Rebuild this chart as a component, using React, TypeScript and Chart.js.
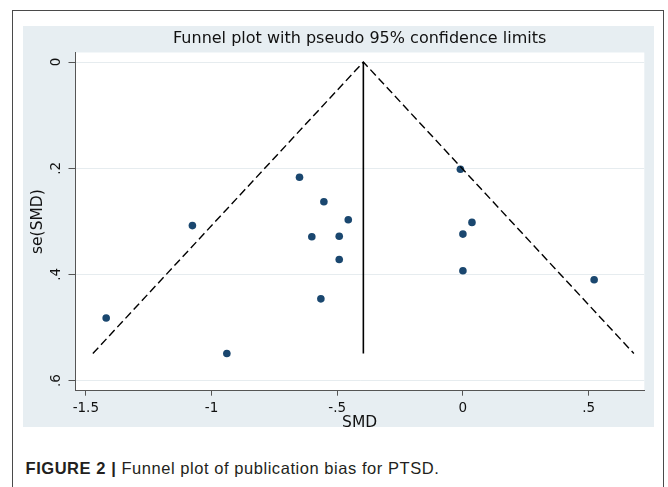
import React, { useEffect, useRef } from "react";
import { Chart, registerables } from "chart.js";

Chart.register(...registerables);

// ---- data ----
const studySMD = [-1.419, -1.076, -0.939, -0.65, -0.553, -0.601, -0.492, -0.456, -0.492, -0.565, -0.01, 0.036, 0.0, 0.0, 0.522];
const studySE = [0.482, 0.308, 0.549, 0.217, 0.263, 0.329, 0.328, 0.297, 0.372, 0.446, 0.202, 0.302, 0.324, 0.393, 0.41];
const funnelX = [-1.472, -0.396, 0.68];
const funnelY = [0.549, 0, 0.549];
const pooledX = [-0.396, -0.396];
const pooledY = [0, 0.549];
const xTickValues = [-1.5, -1, -0.5, 0, 0.5];
const yTickValues = [0, 0.2, 0.4, 0.6];

const titleText = "Funnel plot with pseudo 95% confidence limits";
const xTitle = "SMD";
const yTitle = "se(SMD)";

const fmt = (v: number) => {
  if (Math.abs(v) < 1e-9) return "0";
  let s = String(Math.round(v * 100) / 100);
  s = s.replace(/^0\./, ".").replace(/^-0\./, "-.");
  return s;
};

const FONT = "'DejaVu Sans', sans-serif";

const plotBg = {
  id: "plotBg",
  beforeDraw(chart: any) {
    const { ctx, chartArea } = chart;
    ctx.save();
    ctx.fillStyle = "#ffffff";
    ctx.fillRect(chartArea.left, chartArea.top, chartArea.right - chartArea.left, chartArea.bottom - chartArea.top);
    ctx.restore();
  },
};

export default function App() {
  const ref = useRef<HTMLCanvasElement | null>(null);

  useEffect(() => {
    if (!ref.current) return;
    const chart = new Chart(ref.current, {
      type: "scatter",
      data: {
        datasets: [
          {
            type: "line",
            data: funnelX.map((x, i) => ({ x, y: funnelY[i] })),
            borderColor: "#000000",
            borderWidth: 1.4,
            borderDash: [8, 4],
            pointRadius: 0,
            fill: false,
            tension: 0,
          } as any,
          {
            type: "line",
            data: pooledX.map((x, i) => ({ x, y: pooledY[i] })),
            borderColor: "#000000",
            borderWidth: 1.6,
            pointRadius: 0,
            fill: false,
          } as any,
          {
            type: "scatter",
            data: studySMD.map((x, i) => ({ x, y: studySE[i] })),
            backgroundColor: "#1a476f",
            borderWidth: 0,
            pointRadius: 3.8,
          } as any,
        ],
      },
      options: {
        animation: false,
        responsive: false,
        maintainAspectRatio: false,
        layout: { padding: { left: 0, right: 9.7, top: 0, bottom: 0 } },
        plugins: {
          legend: { display: false },
          tooltip: { enabled: false },
          title: {
            display: true,
            text: titleText,
            fullSize: false,
            color: "#111111",
            font: { family: FONT, size: 16, weight: "normal", lineHeight: 1.2 },
            padding: { top: 3.4, bottom: 3.9 },
          },
        },
        scales: {
          x: {
            type: "linear",
            min: -1.543,
            max: 0.7215,
            afterFit(scale: any) {
              scale.height = 47.3;
            },
            afterBuildTicks(scale: any) {
              scale.ticks = xTickValues.map((v) => ({ value: v }));
            },
            ticks: {
              callback: (v: any) => fmt(Number(v)),
              color: "#111111",
              font: { family: FONT, size: 13.5, lineHeight: 1.2 },
              padding: 4.5,
              maxRotation: 0,
              minRotation: 0,
            },
            grid: {
              drawOnChartArea: false,
              drawTicks: true,
              tickLength: 5,
              tickColor: "#555555",
              tickWidth: 1,
            },
            border: { display: true, color: "#555555", width: 1 },
            title: {
              display: true,
              text: xTitle,
              color: "#111111",
              font: { family: FONT, size: 15.5, lineHeight: 1.2 },
              padding: { top: 0, bottom: 5.5 },
            },
          },
          y: {
            type: "linear",
            reverse: true,
            min: -0.018,
            max: 0.619,
            afterFit(scale: any) {
              scale.width = 52;
            },
            afterBuildTicks(scale: any) {
              scale.ticks = yTickValues.map((v) => ({ value: v }));
            },
            ticks: {
              callback: (v: any) => fmt(Number(v)),
              color: "#111111",
              font: { family: FONT, size: 13.5, lineHeight: 1.2 },
              padding: 6,
              minRotation: 90,
              maxRotation: 90,
              crossAlign: "center",
            },
            grid: {
              color: "#e6ecef",
              lineWidth: 1,
              drawTicks: true,
              tickLength: 6.5,
              tickColor: "#555555",
              tickWidth: 1,
            },
            border: { display: true, color: "#555555", width: 1 },
            title: {
              display: true,
              text: yTitle,
              color: "#111111",
              font: { family: FONT, size: 15.5, lineHeight: 1.2 },
              padding: { top: 6, bottom: 0 },
            },
          },
        },
      } as any,
      plugins: [plotBg],
    });
    return () => chart.destroy();
  }, []);

  return (
    <div style={{ position: "absolute", left: 0, top: 0, width: 668, height: 487, overflow: "hidden", background: "#ffffff" }}>
      <div
        style={{
          position: "absolute",
          left: 11.5,
          top: 9.5,
          width: 652,
          height: 520,
          border: "1.5px solid #4a4a4a",
          boxSizing: "border-box",
        }}
      />
      <div style={{ position: "absolute", left: 22.7, top: 26, width: 631.6, height: 400.5, background: "#e7eef2" }} />
      <canvas ref={ref} width={631} height={412} style={{ position: "absolute", left: 23, top: 26, width: 631, height: 412 }} />
      <div
        style={{
          position: "absolute",
          left: 25.5,
          top: 458.3,
          whiteSpace: "nowrap",
          fontFamily: "'Liberation Sans', Arial, sans-serif",
          fontSize: 16.5,
          lineHeight: "20px",
          letterSpacing: "0.55px",
          color: "#231f20",
        }}
      >
        <span style={{ fontWeight: "bold" }}>FIGURE 2 |</span> Funnel plot of publication bias for PTSD.
      </div>
    </div>
  );
}
